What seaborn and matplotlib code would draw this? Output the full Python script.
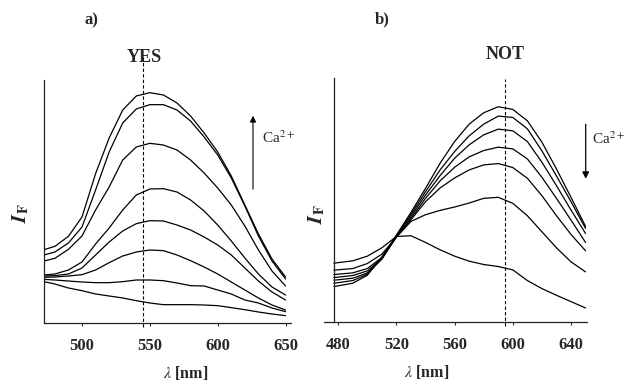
import matplotlib
matplotlib.use("Agg")
import matplotlib.pyplot as plt
import pandas as pd
import seaborn as sns

# panel a (YES): emission spectra, arbitrary intensity units
wl_a = [472, 480, 490, 500, 510, 520, 530, 540, 550, 560, 570, 580, 590, 600, 610, 620, 630, 640, 650]
yes_1 = [220, 230, 260, 318, 448, 555, 639, 681, 691, 684, 660, 621, 570, 513, 441, 354, 267, 192, 138]
yes_2 = [204, 213, 240, 288, 399, 513, 600, 642, 655, 655, 639, 606, 558, 504, 435, 351, 261, 186, 132]
yes_3 = [186, 194, 221, 261, 339, 408, 489, 528, 539, 534, 519, 489, 450, 405, 354, 291, 219, 156, 111]
yes_4 = [144, 147, 159, 183, 237, 285, 339, 384, 402, 403, 393, 369, 336, 294, 246, 195, 147, 108, 84]
yes_5 = [141, 142, 147, 165, 204, 243, 276, 298, 307, 306, 294, 279, 258, 234, 204, 165, 126, 93, 69]
yes_6 = [137, 138, 141, 145, 159, 181, 201, 213, 219, 217, 204, 187, 168, 147, 123, 99, 75, 54, 39]
yes_7 = [131, 129, 126, 123, 121, 121, 124, 129, 129, 127, 120, 112, 111, 99, 87, 69, 60, 45, 34]
yes_8 = [124, 117, 105, 97, 87, 81, 75, 67, 60, 55, 55, 55, 54, 52, 46, 40, 33, 27, 22]

# panel b (NOT)
wl_b = [477, 490, 500, 510, 520, 530, 540, 550, 560, 570, 580, 590, 600, 610, 620, 630, 640, 650]
not_1 = [106, 116, 140, 195, 260, 328, 400, 475, 540, 592, 626, 644, 636, 602, 538, 458, 373, 286]
not_2 = [116, 124, 143, 190, 258, 322, 390, 455, 510, 557, 592, 616, 612, 578, 512, 437, 360, 280]
not_3 = [125, 131, 147, 188, 256, 316, 380, 438, 490, 530, 560, 577, 572, 540, 478, 408, 335, 265]
not_4 = [133, 139, 153, 190, 255, 310, 370, 422, 463, 494, 513, 523, 518, 488, 433, 370, 305, 238]
not_5 = [142, 147, 160, 193, 254, 306, 360, 401, 431, 455, 470, 474, 462, 430, 378, 318, 262, 213]
not_6 = [155, 160, 175, 203, 254, 301, 321, 334, 344, 356, 370, 373, 355, 318, 270, 222, 180, 150]
not_7 = [176, 183, 197, 222, 256, 258, 238, 216, 197, 182, 172, 166, 156, 124, 100, 80, 61, 42]

yes_curves = [yes_1, yes_2, yes_3, yes_4, yes_5, yes_6, yes_7, yes_8]
not_curves = [not_1, not_2, not_3, not_4, not_5, not_6, not_7]


def long_form(wl, curves):
    rows = []
    for i, c in enumerate(curves):
        for w, v in zip(wl, c):
            rows.append({"wl": w, "IF": v, "curve": i})
    return pd.DataFrame(rows)


df_a = long_form(wl_a, yes_curves)
df_b = long_form(wl_b, not_curves)

sns.set_style("ticks")
plt.rcParams["font.family"] = ["Liberation Serif", "DejaVu Serif"]
plt.rcParams["mathtext.fontset"] = "stix"

fig = plt.figure(figsize=(6.26, 3.81), dpi=100)
ax_a = fig.add_axes([44 / 626, 58 / 381, 247 / 626, 243 / 381])
ax_b = fig.add_axes([324 / 626, 59 / 381, 263 / 626, 244 / 381])

for ax, df in [(ax_a, df_a), (ax_b, df_b)]:
    sns.lineplot(data=df, x="wl", y="IF", units="curve", estimator=None,
                 color="black", lw=0.9, ax=ax, legend=False)
    ax.spines["top"].set_visible(False)
    ax.spines["right"].set_visible(False)
    for s in ("left", "bottom"):
        ax.spines[s].set_linewidth(0.9)
        ax.spines[s].set_color("#222222")
    ax.set_yticks([])
    ax.tick_params(axis="x", direction="out", length=2.5, width=0.8, pad=8,
                   labelsize=12)
    ax.set_xlabel(r"$\lambda$ [nm]", fontsize=11.5, fontweight="bold", va="center")
    ax.set_ylabel(r"$\mathbfit{I}_{\mathbf{F}}$", fontsize=15, va="center")

# panel a
ax_a.set_xlim(472, 654)
ax_a.set_ylim(0, 729)
ax_a.set_xticks([500, 550, 600, 650])
ax_a.set_xticklabels(["500", "550", "600", "650"], fontweight="bold")
ax_a.xaxis.set_label_coords(0.575, -0.205)
ax_a.yaxis.set_label_coords(-0.095, 0.45)
ax_a.plot([545.3, 545.3], [-12, 800], ls=(0, (3, 2)), color="black", lw=0.8,
          clip_on=False)
ax_a.text(546, 798, "YES", ha="center", va="center", fontsize=13, fontweight="bold")
ax_a.text(506.6, 909, "a)", ha="center", va="center", fontsize=12, fontweight="bold")
ax_a.annotate("", xy=(626, 630), xytext=(626, 393),
              arrowprops=dict(arrowstyle="-|>", color="black", lw=0.8,
                              mutation_scale=9))
ax_a.text(632.6, 555, r"Ca$^{2+}$", ha="left", va="center", fontsize=11)

# panel b
ax_b.set_xlim(470.2, 651)
ax_b.set_ylim(0, 730)
ax_b.spines["left"].set_position(("data", 477))
ax_b.set_xticks([480, 520, 560, 600, 640])
ax_b.set_xticklabels(["480", "520", "560", "600", "640"], fontweight="bold")
ax_b.xaxis.set_label_coords(0.392, -0.205)
ax_b.yaxis.set_label_coords(-0.025, 0.44)
ax_b.plot([594.6, 594.6], [-12, 726], ls=(0, (3, 2)), color="black", lw=0.8,
          clip_on=False)
ax_b.text(594.6, 801, "NOT", ha="center", va="center", fontsize=13, fontweight="bold")
ax_b.text(510.1, 906, "b)", ha="center", va="center", fontsize=12, fontweight="bold")
ax_b.annotate("", xy=(650.1, 420), xytext=(650.1, 600),
              arrowprops=dict(arrowstyle="-|>", color="black", lw=0.9,
                              mutation_scale=10), annotation_clip=False)
ax_b.text(654.4, 549, r"Ca$^{2+}$", ha="left", va="center", fontsize=11)

fig.savefig("out.png", dpi=100)
